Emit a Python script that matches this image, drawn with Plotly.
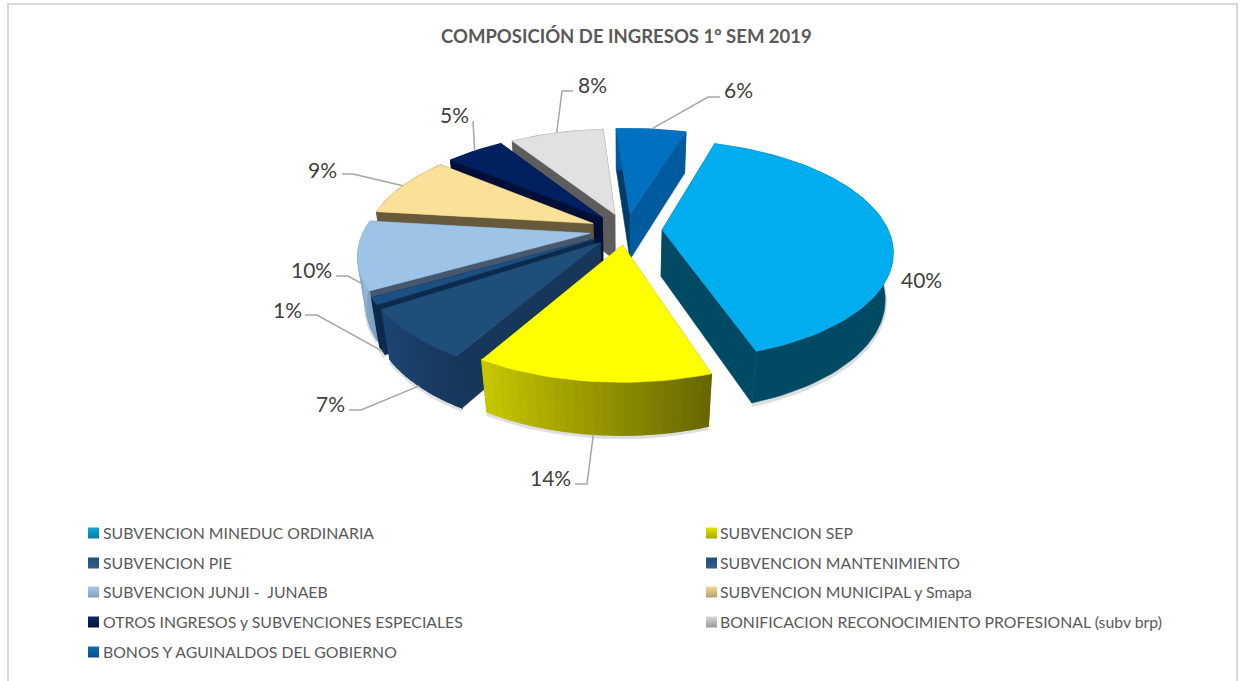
import math
import plotly.graph_objects as go

# ---- data ----
categories = ["SUBVENCION MINEDUC ORDINARIA", "SUBVENCION SEP", "SUBVENCION PIE",
              "SUBVENCION MANTENIMIENTO", "SUBVENCION JUNJI -  JUNAEB", "SUBVENCION MUNICIPAL y Smapa",
              "OTROS INGRESOS y SUBVENCIONES ESPECIALES", "BONIFICACION RECONOCIMIENTO PROFESIONAL (subv brp)",
              "BONOS Y AGUINALDOS DEL GOBIERNO"]
values = [40, 13.6, 7.4, 1, 10, 9, 5, 8, 6]
title = "COMPOSICIÓN DE INGRESOS 1º SEM 2019"

# ---- styles ----
top_colors = ["#00aeef", "#ffff00", "#1f4e79", "#1c4f82", "#9dc3e6", "#fbe197", "#002060", "#e1e1e1", "#0070c0"]
start_walls = ["#004a63", "#8a8a00", "#17375a", "#0b2a4c", "#46586e", "#665a3a", "#000f35", "#5d5d5d", "#003c68"]
end_walls = ["#004a63", "#8a8a00", "#17375a", "#0b2a4c", "#46586e", "#665a3a", "#000f35", "#5d5d5d", "#005a9e"]
outer_from = ["#004a63", "#c8c800", "#1c4672", "#0b2a4c", "#9cc0e2", "#665a3a", "#000f35", "#5d5d5d", "#005a9e"]
outer_to = ["#004a63", "#666600", "#17375c", "#0b2a4c", "#7f9fc0", "#665a3a", "#000f35", "#5d5d5d", "#005a9e"]
swatch = ["#12a5dc", "#e6e600", "#1f4e79", "#1f4e79", "#a9c8e6", "#f0d898", "#0b2a6a", "#d6d6d6", "#0f6db5"]
swatch2 = ["#0a7aa5", "#a8a800", "#2f5f8c", "#2f5f8c", "#7f9fc0", "#b9a36a", "#00123d", "#9a9a9a", "#0a4f88"]

W, H = 1245, 681
CX, CY = 626, 230          # pixel position of the pie centre
A, B = 226, 106            # projected radii
K, M = 0.182, 0.03         # perspective
DEPTH = 48
EXPLODE = [0.16, 0.14, 0.16, 0.16, 0.16, 0.16, 0.16, 0.16, 0.16]
START_DEG = 17.5
TEXT = "#595959"
LABEL = "#404040"
LINE = "#a6a6a6"
FONT = "Lato"

# label centre, leader knee points (pixels), leader end on rim depth (0 top, 1 bottom, between = wall)
label_pos = [(921, 279), (550, 477), (330, 403), (287, 309), (311, 269), (322, 169), (454, 114), (592, 84), (738, 89)]
knees = [[], [(575, 484), (587, 484)], [(349, 410), (361, 410)], [(305, 315), (317, 315)], [(336, 276), (348, 276)],
         [(342, 174), (353, 174)], [(473, 121)], [(573, 91), (562, 91)], [(720, 97), (708, 97)]]
rim_depth = [0, 1, 1, 1, 0.6, 0, 0, 0, 0]
legend_rows = [532, 562, 591, 621, 651]
legend_cols = [(93.5, 101), (711.5, 718)]


def project(X, Y, Z):
    w = 1 + K * Y + M * Z
    return A * X / w, (-B * Y + DEPTH * Z) / w


def hex_mix(a, b, t):
    ca = [int(a[i:i + 2], 16) for i in (1, 3, 5)]
    cb = [int(b[i:i + 2], 16) for i in (1, 3, 5)]
    return "#%02x%02x%02x" % tuple(round(p + (q - p) * t) for p, q in zip(ca, cb))


fig = go.Figure()


def poly(points, color, width=0.6):
    xs = [p[0] for p in points] + [points[0][0]]
    ys = [p[1] for p in points] + [points[0][1]]
    fig.add_trace(go.Scatter(x=xs, y=ys, mode="lines", fill="toself", fillcolor=color,
                             line=dict(color=color, width=width), hoverinfo="skip", showlegend=False))


total = sum(values)
angle = START_DEG
slices = []
for v in values:
    sweep = 360 * v / total
    slices.append((angle, angle + sweep))
    angle += sweep


def rim(i, t, Z):
    a0, a1 = slices[i]
    mid = math.radians((a0 + a1) / 2)
    r = math.radians(t)
    return project(math.sin(r) + EXPLODE[i] * math.sin(mid), math.cos(r) + EXPLODE[i] * math.cos(mid), Z)


def apex(i, Z):
    a0, a1 = slices[i]
    mid = math.radians((a0 + a1) / 2)
    return project(EXPLODE[i] * math.sin(mid), EXPLODE[i] * math.cos(mid), Z)


# back slices first, the two front slices last
order = [8, 7, 6, 5, 4, 3, 2, 1, 0]
for i in order:
    a0, a1 = slices[i]
    n = max(2, int((a1 - a0) / 2))
    ts = [a0 + (a1 - a0) * j / n for j in range(n + 1)]
    # soft shadow under the lower edge
    sx = [rim(i, t, 1)[0] for t in ts]
    sy = [rim(i, t, 1)[1] + 2 for t in ts]
    fig.add_trace(go.Scatter(x=sx, y=sy, mode="lines", line=dict(color="rgba(0,0,0,0.13)", width=4),
                             hoverinfo="skip", showlegend=False))
    poly([apex(i, 0), rim(i, a0, 0), rim(i, a0, 1), apex(i, 1)], start_walls[i])
    poly([apex(i, 0), rim(i, a1, 0), rim(i, a1, 1), apex(i, 1)], end_walls[i])
    # whole outer wall first, so the shaded strips leave no seams
    wall = [rim(i, t, 0) for t in ts] + [rim(i, t, 1) for t in reversed(ts)]
    poly(wall, hex_mix(outer_to[i], outer_from[i], 0.5))
    if outer_from[i] != outer_to[i]:
        for j in range(n):
            poly([rim(i, ts[j], 0), rim(i, ts[j + 1], 0), rim(i, ts[j + 1], 1), rim(i, ts[j], 1)],
                 hex_mix(outer_to[i], outer_from[i], (j + 0.5) / n), width=1.5)
    poly([apex(i, 0)] + [rim(i, t, 0) for t in ts], top_colors[i])

# leader lines
for i, knee in enumerate(knees):
    if not knee:
        continue
    a0, a1 = slices[i]
    end = rim(i, (a0 + a1) / 2, rim_depth[i])
    xs = [p[0] - CX for p in knee] + [end[0]]
    ys = [p[1] - CY for p in knee] + [end[1]]
    fig.add_trace(go.Scatter(x=xs, y=ys, mode="lines", line=dict(color=LINE, width=1.5),
                             hoverinfo="skip", showlegend=False))

annotations = [dict(text="<b>%s</b>" % title, x=626 - CX, y=36 - CY, xref="x", yref="y", showarrow=False,
                    font=dict(family=FONT, size=18.5, color=TEXT))]
for i, (lx, ly) in enumerate(label_pos):
    annotations.append(dict(text="%d%%" % round(100 * values[i] / total), x=lx - CX, y=ly - CY, xref="x", yref="y",
                            showarrow=False, font=dict(family=FONT, size=21, color=LABEL)))

# legend, two columns
for i, name in enumerate(categories):
    mx, tx = legend_cols[i % 2]
    ry = legend_rows[i // 2]
    fig.add_trace(go.Scatter(x=[mx - CX], y=[ry - CY + 1], mode="markers", hoverinfo="skip", showlegend=False,
                             marker=dict(symbol="square", size=11, color=swatch[i], line=dict(width=0),
                                         gradient=dict(type="vertical", color=swatch2[i]))))
    annotations.append(dict(text=name, x=tx - CX, y=ry - CY, xref="x", yref="y", xanchor="left", showarrow=False,
                            font=dict(family=FONT, size=15.8, color=TEXT)))

fig.update_layout(
    width=W, height=H, autosize=False, margin=dict(l=0, r=0, t=0, b=0),
    paper_bgcolor="white", plot_bgcolor="white", showlegend=False, annotations=annotations,
    xaxis=dict(range=[-CX, W - CX], visible=False, fixedrange=True),
    yaxis=dict(range=[H - CY, -CY], visible=False, fixedrange=True),
    shapes=[dict(type="rect", xref="paper", yref="paper", x0=8 / W, x1=1237 / W, y0=1 - 4 / H, y1=-0.1,
                 line=dict(color="#d9d9d9", width=2), layer="below")],
)
fig.write_html("out.html", config=dict(displayModeBar=False),
               post_script="document.body.style.margin='0';document.body.style.overflow='hidden';")
